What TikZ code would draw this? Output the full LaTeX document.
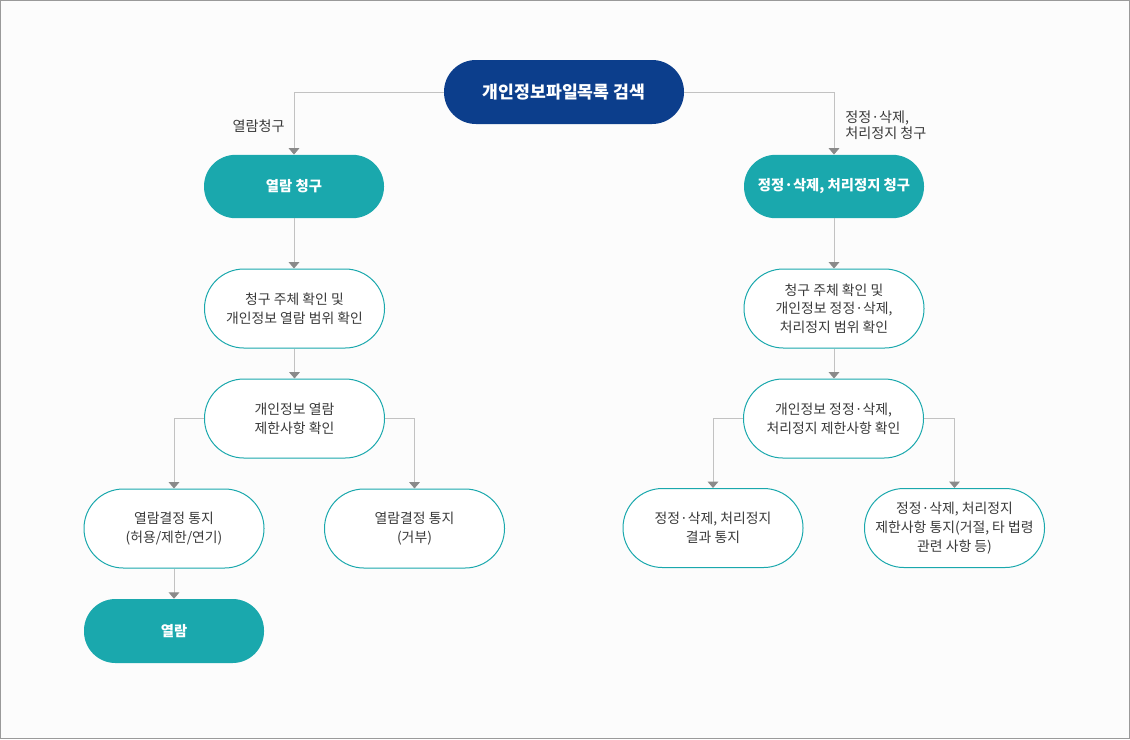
\documentclass[tikz,border=0pt]{standalone}
\usepackage{fontspec}
\setmainfont{Noto Sans CJK KR}
\usetikzlibrary{arrows.meta}
\definecolor{bgcol}{HTML}{FCFCFC}
\definecolor{framecol}{HTML}{9A9A9A}
\definecolor{navy}{HTML}{0C3E8C}
\definecolor{teal2}{HTML}{1AA8AD}
\definecolor{linegray}{HTML}{C2C2C2}
\definecolor{arrowgray}{HTML}{8A8A8A}
\definecolor{txt}{HTML}{3A3A3A}
\tikzset{
  base/.style={rectangle, inner sep=0pt, align=center, minimum width=135pt},
  navybox/.style={base, fill=navy, text=white, minimum width=180pt, minimum height=48pt,
     rounded corners=23.9pt, font=\fontsize{12.9pt}{16pt}\selectfont\bfseries},
  tealbox/.style={base, fill=teal2, text=white, minimum height=47.5pt,
     rounded corners=23.6pt, font=\fontsize{10.75pt}{13pt}\selectfont\bfseries},
  outbox/.style={base, draw=teal2, line width=0.75pt, fill=white, text=txt, minimum height=59.25pt,
     rounded corners=29.5pt, font=\fontsize{10.4pt}{14pt}\selectfont},
  lbl/.style={inner sep=0pt, text=txt, font=\fontsize{10.6pt}{12.2pt}\selectfont},
  conn/.style={draw=linegray, line width=0.75pt,
     -{Triangle[width=8pt,length=4.8pt,color=arrowgray]}}
}
\begin{document}
\begin{tikzpicture}[x=0.75pt,y=-0.75pt]
\useasboundingbox (0,0) rectangle (1130,739);
\fill[bgcol] (0,0) rectangle (1130,739);
\draw[framecol, line width=0.75pt] (0.5,0.5) rectangle (1129.5,738.5);

\node[navybox] (top) at (564,92) {개인정보파일목록 검색};
\node[tealbox] (req) at (294,186.5) {열람 청구};
\node[tealbox] (cr) at (834,186.5) {정정·삭제, 처리정지 청구};

\node[outbox] (chk1) at (294.5,308.5) {청구 주체 확인 및\\개인정보 열람 범위 확인};
\node[outbox] (chk2) at (834,308.5) {청구 주체 확인 및\\개인정보 정정·삭제,\\처리정지 범위 확인};

\node[outbox] (lim1) at (294.5,418.5) {개인정보 열람\\제한사항 확인};
\node[outbox] (lim2) at (833.5,418.5) {개인정보 정정·삭제,\\처리정지 제한사항 확인};

\node[outbox] (dec1) at (174,528.5) {열람결정 통지\\(허용/제한/연기)};
\node[outbox] (dec2) at (414.5,528.5) {열람결정 통지\\(거부)};
\node[outbox] (res1) at (713,528) {정정·삭제, 처리정지\\결과 통지};
\node[outbox] (res2) at (954.5,528) {정정·삭제, 처리정지\\제한사항 통지(거절, 타 법령\\관련 사항 등)};

\node[tealbox, minimum height=48pt] (view) at (174,631) {열람};

\node[lbl, anchor=east] (l1) at (285,126) {열람청구};
\node[lbl, anchor=west, align=left] (l2) at (845,125) {정정·삭제,\\처리정지 청구};

\draw[conn] (top.west) -| (req.north);
\draw[conn] (top.east) -| (cr.north);
\draw[conn] (req.south) -- (chk1.north -| req.south);
\draw[conn] (cr.south) -- (chk2.north);
\draw[conn] (chk1.south) -- (lim1.north);
\draw[conn] (chk2.south) -- (lim2.north -| chk2.south);
\draw[conn] (lim1.west) -| (dec1.north);
\draw[conn] (lim1.east) -| (dec2.north);
\draw[conn] (lim2.west) -| (res1.north);
\draw[conn] (lim2.east) -| (res2.north);
\draw[conn] (dec1.south) -- (view.north);
\end{tikzpicture}
\end{document}
